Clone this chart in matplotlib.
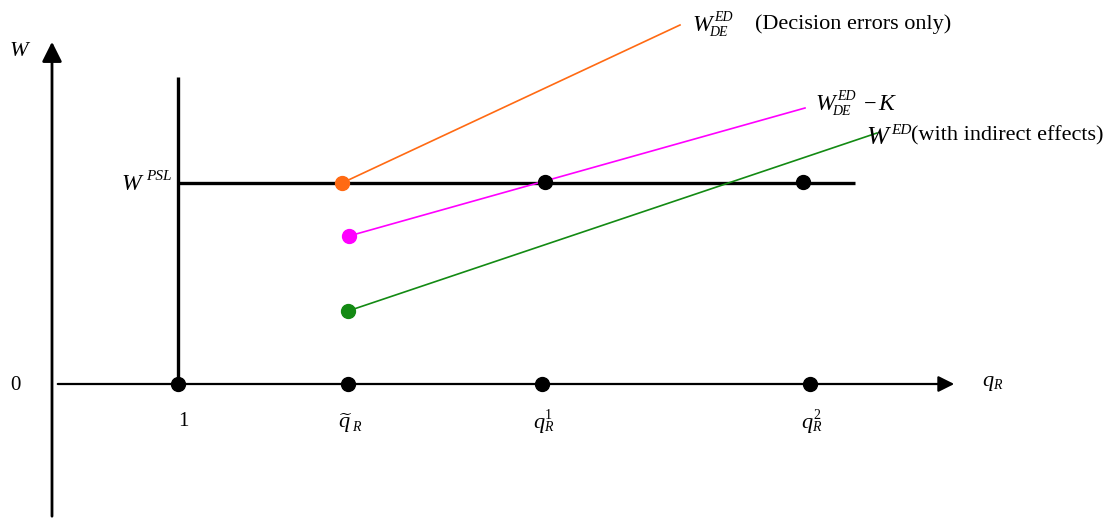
import matplotlib
matplotlib.use("Agg")
import matplotlib.pyplot as plt

plt.rcParams['font.family'] = ['Liberation Serif', 'DejaVu Serif']
plt.rcParams['mathtext.fontset'] = 'custom'
plt.rcParams['mathtext.rm'] = 'Liberation Serif'
plt.rcParams['mathtext.it'] = 'Liberation Serif:italic'

# Schematic coordinates (x: q_R axis, y: welfare W), figure units
x_axis_y = 135           # height of q_R axis
y_axis_x = 52            # position of W axis
q_positions = [178, 348, 542, 810]
q_sups = [None, None, '1', '2']

w_psl = 336
psl_x = [178, 855]
vert_top = 442

orange_x = [342, 680]; orange_y = [336, 494]
magenta_x = [349, 805]; magenta_y = [283, 411]
green_x = [348, 877]; green_y = [208, 386]
cross_x = [545, 803]; cross_y = [337, 337]

fig = plt.figure(figsize=(11.16, 5.19), dpi=100)
ax = fig.add_axes([0, 0, 1, 1])
ax.set_xlim(0, 1116)
ax.set_ylim(0, 519)
ax.axis('off')
renderer = fig.canvas.get_renderer()


def right_edge(t):
    bb = t.get_window_extent(renderer)
    return ax.transData.inverted().transform((bb.x1, bb.y1))[0]


def sym(x, yb, base, sup=None, sub=None, size=16, ssize=10, supdy=10, subdy=-5,
        subdx=-2, supdx=1, supstyle='italic'):
    t = ax.text(x, yb, base, fontsize=size, style='italic', ha='left', va='baseline')
    xr = right_edge(t)
    ends = [xr]
    if sup:
        ts = ax.text(xr + supdx, yb + supdy, sup, fontsize=ssize, style=supstyle, ha='left', va='baseline')
        ends.append(right_edge(ts))
    if sub:
        tb = ax.text(xr + subdx, yb + subdy, sub, fontsize=ssize, style='italic', ha='left', va='baseline')
        ends.append(right_edge(tb))
    return max(ends)


# axes with arrows
ax.annotate('', xy=(y_axis_x, 480), xytext=(y_axis_x, 0),
            arrowprops=dict(arrowstyle='-|>', lw=2, color='black', mutation_scale=30))
ax.annotate('', xy=(957, x_axis_y), xytext=(55, x_axis_y),
            arrowprops=dict(arrowstyle='-|>', lw=1.6, color='black', mutation_scale=24))

# thick vertical line at q=1 and W^PSL line
ax.plot([178, 178], [x_axis_y, vert_top], color='black', lw=2.4, solid_capstyle='butt')
ax.plot(psl_x, [w_psl, w_psl], color='black', lw=2.4, solid_capstyle='butt')

# colored lines
ax.plot(orange_x, orange_y, color='#ff6a13', lw=1.2)
ax.plot(magenta_x, magenta_y, color='#ff00ff', lw=1.2)
ax.plot(green_x, green_y, color='#138a13', lw=1.2)

ax.plot(orange_x[0], orange_y[0], 'o', color='#ff6a13', ms=10)
ax.plot(magenta_x[0], magenta_y[0], 'o', color='#ff00ff', ms=10)
ax.plot(green_x[0], green_y[0], 'o', color='#138a13', ms=10)
ax.plot(cross_x, cross_y, 'o', color='black', ms=10, ls='none')
ax.plot(q_positions, [x_axis_y] * len(q_positions), 'o', color='black', ms=10, ls='none')

# tick labels
ax.text(183, x_axis_y - 42, '1', ha='center', va='baseline', fontsize=15)
sym(338, x_axis_y - 44, r'$\widetilde{q}$', sub='R', size=16, ssize=10, subdy=-3, subdx=-1)
for xp, s in zip(q_positions[2:], q_sups[2:]):
    sym(xp - 9, x_axis_y - 44, 'q', sup=s, sub='R', size=16, ssize=10,
        supdy=9, subdy=-3, subdx=0, supdx=1, supstyle='normal')

ax.text(15, x_axis_y - 6, '0', ha='center', va='baseline', fontsize=15)
ax.text(10, 463, 'W', style='italic', ha='left', va='baseline', fontsize=16)
sym(982, x_axis_y - 2, 'q', sub='R', size=16, ssize=10, subdy=-3, subdx=0)
sym(121, 329, 'W', sup='PSL', size=17, ssize=11, supdy=10, supdx=5)

sym(692, 488, 'W', sup='ED', sub='DE', size=17, ssize=10, supdx=3)
ax.text(755, 490, '(Decision errors only)', ha='left', va='baseline', fontsize=16)
xe = sym(815, 409, 'W', sup='ED', sub='DE', size=17, ssize=10, supdx=3)
ax.text(xe + 8, 409, '\u2212', ha='left', va='baseline', fontsize=16)
ax.text(xe + 22, 409, 'K', style='italic', ha='left', va='baseline', fontsize=17)
xe = sym(866, 375, 'W', sup='ED', size=19, ssize=11, supdy=10, supdx=3)
ax.text(xe, 379, '(with indirect effects)', ha='left', va='baseline', fontsize=16)

fig.savefig('out.png', dpi=100)
